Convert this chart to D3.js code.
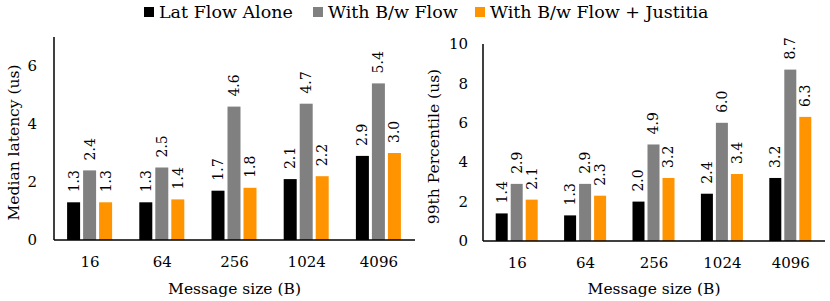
<!DOCTYPE html>
<html lang="en">
<head>
    <meta charset="UTF-8">
    <title>Latency vs message size</title>
    <script src="https://d3js.org/d3.v7.min.js"></script>
    <style>
        body { margin: 0; background: #fff; }
        text { font-family: "DejaVu Serif", "Liberation Serif", serif; fill: #000; }
    </style>
</head>
<body>
<script>
    var sizes = ["16", "64", "256", "1024", "4096"];
    var seriesNames = ["Lat Flow Alone", "With B/w Flow", "With B/w Flow + Justitia"];
    var colors = ["#000000", "#808080", "#ff9300"];

    // median latency (us)
    var medAlone = [1.3, 1.3, 1.7, 2.1, 2.9];
    var medBw = [2.4, 2.5, 4.6, 4.7, 5.4];
    var medJust = [1.3, 1.4, 1.8, 2.2, 3.0];

    // 99th percentile (us)
    var p99Alone = [1.4, 1.3, 2.0, 2.4, 3.2];
    var p99Bw = [2.9, 2.9, 4.9, 6.0, 8.7];
    var p99Just = [2.1, 2.3, 3.2, 3.4, 6.3];

    var medTicks = [0, 2, 4, 6];
    var p99Ticks = [0, 2, 4, 6, 8, 10];

    var width = 830, height = 301;

    var svg = d3.select("body").append("svg")
        .attr("width", width)
        .attr("height", height);

    // legend
    var legendX = [144, 313, 475];
    var legend = svg.append("g");
    seriesNames.forEach(function(name, i) {
        legend.append("rect")
            .attr("x", legendX[i]).attr("y", 7)
            .attr("width", 10).attr("height", 10)
            .attr("fill", colors[i]);
        legend.append("text")
            .attr("x", legendX[i] + 15).attr("y", 18)
            .style("font-size", "17.5px")
            .text(name);
    });

    function drawPanel(opts) {
        var g = svg.append("g");
        var x = d3.scaleBand().domain(sizes).range([opts.left, opts.right]);
        var y = d3.scaleLinear().domain([0, opts.max]).range([opts.bottom, opts.top]);
        var sub = d3.scaleBand().domain([0, 1, 2]).range([0, opts.barStep * 3]);
        var groupW = opts.barStep * 3;

        var series = [opts.a, opts.b, opts.c];
        series.forEach(function(vals, si) {
            var rows = sizes.map(function(s, i) { return { size: s, v: vals[i] }; });
            g.append("g").selectAll("rect")
                .data(rows)
                .enter().append("rect")
                .attr("x", function(d) { return x(d.size) + (x.bandwidth() - groupW) / 2 + sub(si) + 1; })
                .attr("y", function(d) { return y(d.v); })
                .attr("width", opts.barStep - 3)
                .attr("height", function(d) { return opts.bottom - y(d.v); })
                .attr("fill", colors[si]);

            g.append("g").selectAll("text")
                .data(rows)
                .enter().append("text")
                .attr("transform", function(d) {
                    var cx = x(d.size) + (x.bandwidth() - groupW) / 2 + sub(si) + 1 + (opts.barStep - 3) / 2;
                    return "translate(" + cx + "," + (y(d.v) - 10) + ")rotate(-90)";
                })
                .attr("dy", "0.35em")
                .style("font-size", "14px")
                .text(function(d) { return d.v.toFixed(1); });
        });

        // axes
        g.append("line")
            .attr("x1", opts.left).attr("x2", opts.right)
            .attr("y1", opts.bottom).attr("y2", opts.bottom)
            .attr("stroke", "#000").attr("stroke-width", 1.5);
        g.append("line")
            .attr("x1", opts.left).attr("x2", opts.left)
            .attr("y1", opts.top).attr("y2", opts.bottom)
            .attr("stroke", "#000").attr("stroke-width", 1.5);

        g.append("g").selectAll("text")
            .data(opts.ticks)
            .enter().append("text")
            .attr("x", opts.left - opts.tickGap)
            .attr("y", function(d) { return y(d); })
            .attr("dy", "0.35em")
            .attr("text-anchor", "end")
            .style("font-size", "15px")
            .text(function(d) { return d; });

        g.append("g").selectAll("text")
            .data(sizes)
            .enter().append("text")
            .attr("x", function(d) { return x(d) + x.bandwidth() / 2; })
            .attr("y", opts.bottom + 27)
            .attr("text-anchor", "middle")
            .style("font-size", "15px")
            .text(function(d) { return d; });

        g.append("text")
            .attr("x", (opts.left + opts.right) / 2)
            .attr("y", 294)
            .attr("text-anchor", "middle")
            .style("font-size", "15.5px")
            .text("Message size (B)");

        g.append("text")
            .attr("transform", "translate(" + opts.titleX + "," + ((opts.top + opts.bottom) / 2 + 4) + ")rotate(-90)")
            .attr("text-anchor", "middle")
            .style("font-size", "15.5px")
            .text(opts.title);
    }

    drawPanel({
        left: 54, right: 415, top: 37, bottom: 240, max: 7,
        barStep: 16, ticks: medTicks, a: medAlone, b: medBw, c: medJust,
        title: "Median latency (us)", titleX: 19, tickGap: 17
    });

    drawPanel({
        left: 483, right: 825, top: 44, bottom: 241, max: 10,
        barStep: 15, ticks: p99Ticks, a: p99Alone, b: p99Bw, c: p99Just,
        title: "99th Percentile (us)", titleX: 439, tickGap: 15
    });
</script>
</body>
</html>
